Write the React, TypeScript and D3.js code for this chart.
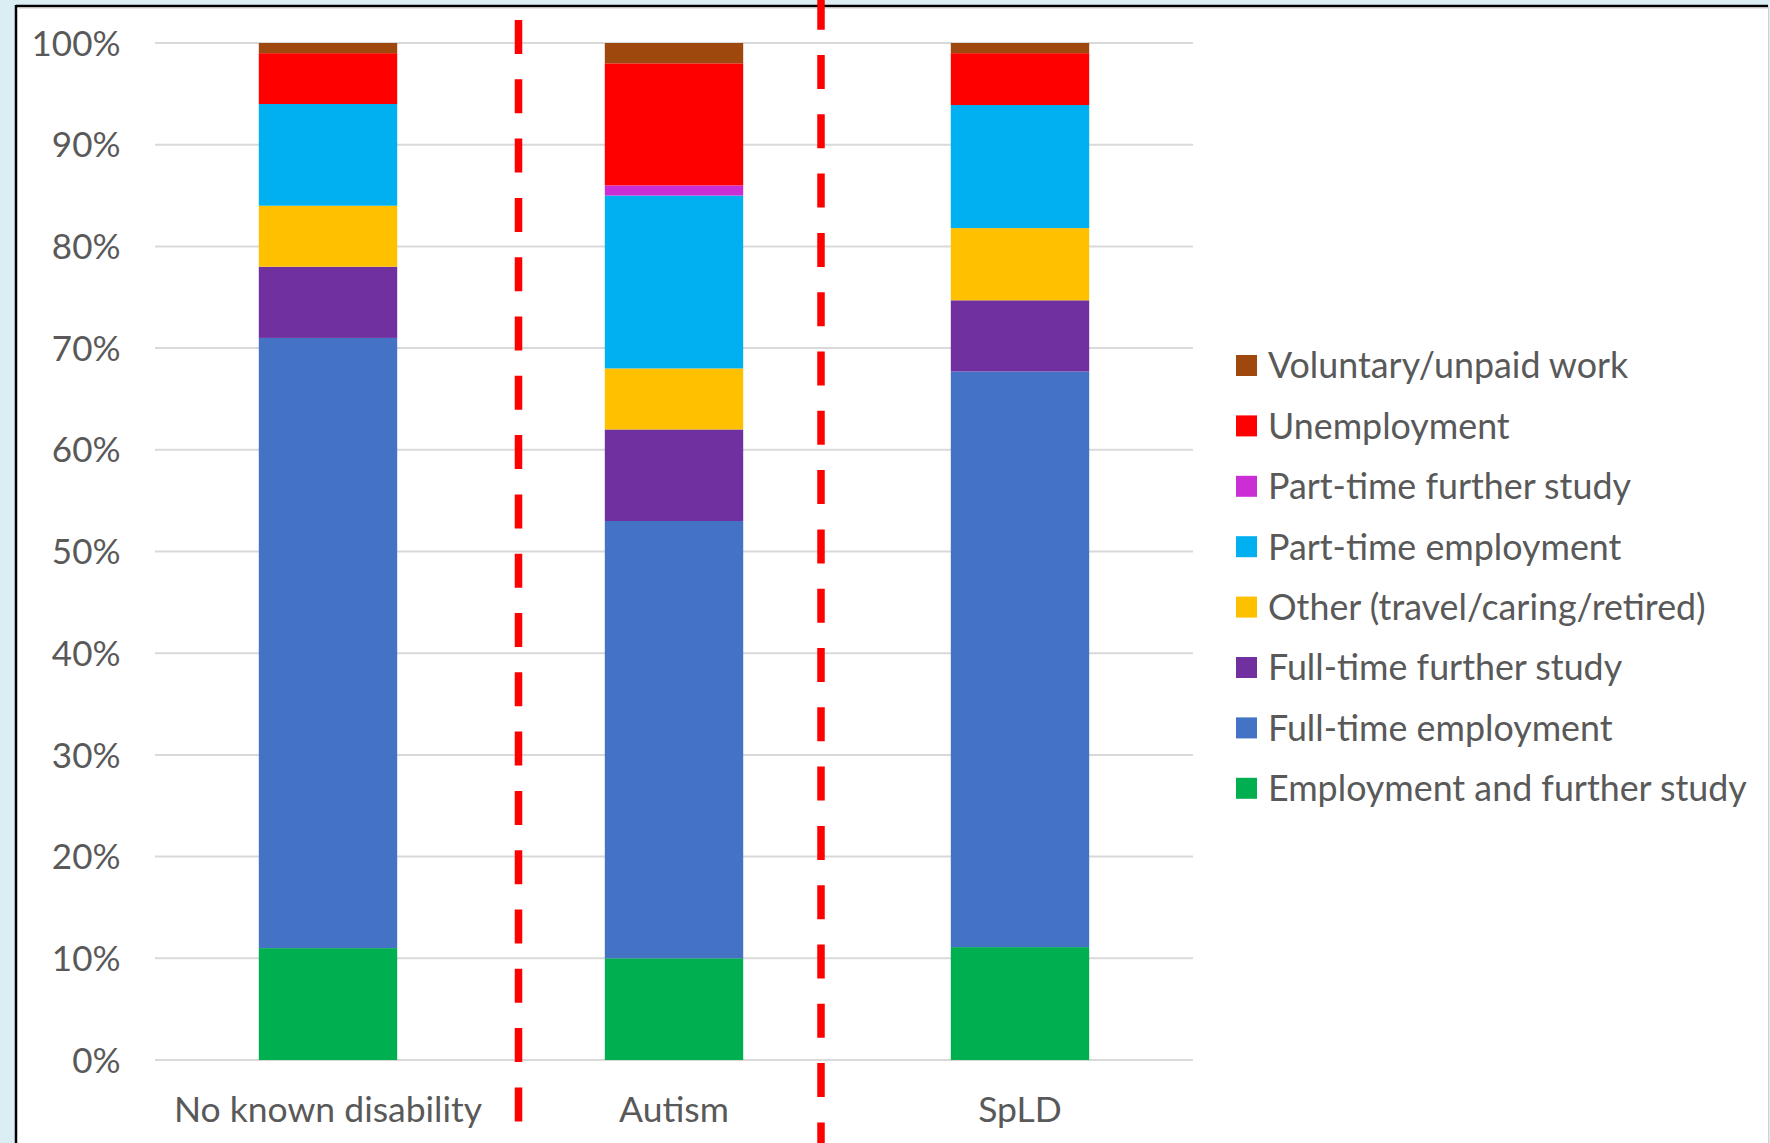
import React from 'react';
import * as d3 from 'd3';

const categories = ['No known disability', 'Autism', 'SpLD'];
const seriesNames = [
  'Employment and further study',
  'Full-time employment',
  'Full-time further study',
  'Other (travel/caring/retired)',
  'Part-time employment',
  'Part-time further study',
  'Unemployment',
  'Voluntary/unpaid work',
];
const seriesColors = ['#00B050', '#4472C4', '#7030A0', '#FFC000', '#00B0F0', '#CC2ED6', '#FF0000', '#9E480E'];
const employmentAndStudy = [11, 10, 11.1];
const fullTimeEmployment = [60, 43, 56.6];
const fullTimeStudy = [7, 9, 7.0];
const otherActivity = [6, 6, 7.1];
const partTimeEmployment = [10, 17, 12.1];
const partTimeStudy = [0, 1, 0];
const unemployment = [5, 12, 5.1];
const voluntaryWork = [1, 2, 1.0];
const yTicks = [0, 10, 20, 30, 40, 50, 60, 70, 80, 90, 100];

const seriesValues = [
  employmentAndStudy,
  fullTimeEmployment,
  fullTimeStudy,
  otherActivity,
  partTimeEmployment,
  partTimeStudy,
  unemployment,
  voluntaryWork,
];

const W = 1770;
const H = 1143;
const FONT = 'Lato, "Open Sans", sans-serif';
const TEXT = '#595959';

export default function App() {
  const plotLeft = 155;
  const plotRight = 1193;
  const plotTop = 43;
  const plotBottom = 1060;

  const x = d3.scaleBand<string>().domain(categories).range([plotLeft, plotRight]).paddingInner(0.6).paddingOuter(0.3);
  const y = d3.scaleLinear().domain([0, 100]).range([plotBottom, plotTop]);

  const rows = categories.map((c, i) => {
    const r: any = { category: c };
    seriesNames.forEach((s, j) => (r[s] = seriesValues[j][i]));
    return r;
  });
  const stacked = d3.stack<any>().keys(seriesNames)(rows);

  const legendItems = seriesNames.map((s, i) => ({ name: s, color: seriesColors[i] })).reverse();
  const legendX = 1236;
  const legendTop = 355;
  const legendPitch = 60.4;
  const sq = 21;

  const dash = '34 25.3';

  return (
    <svg width={W} height={H} style={{ position: 'absolute', left: 0, top: 0, display: 'block' }}>
      <rect x={0} y={0} width={W} height={H} fill="#DAEEF3" />
      <rect x={16} y={6} width={1752} height={H} fill="#FFFFFF" />
      <line x1={16} y1={6} x2={1768} y2={6} stroke="#000" strokeWidth={2.5} />
      <line x1={16} y1={5} x2={16} y2={H} stroke="#000" strokeWidth={2.5} />
      <line x1={1768.5} y1={6} x2={1768.5} y2={H} stroke="#D0D0D0" strokeWidth={1} />
      <line x1={17} y1={8.5} x2={1768} y2={8.5} stroke="#E6E6E6" strokeWidth={1} />

      {yTicks.map((t) => (
        <g key={t}>
          <line x1={plotLeft} x2={plotRight} y1={y(t)} y2={y(t)} stroke="#D9D9D9" strokeWidth={2} />
          <text x={120.5} y={y(t)} dy="0.36em" textAnchor="end" fontFamily={FONT} fontSize={35} fill={TEXT}>
            {t}%
          </text>
        </g>
      ))}

      {stacked.map((layer, j) => (
        <g key={layer.key} fill={seriesColors[j]}>
          {layer.map((d, i) => {
            const h = y(d[0]) - y(d[1]);
            if (h <= 0) return null;
            return <rect key={i} x={x(categories[i])} y={y(d[1])} width={x.bandwidth()} height={h} />;
          })}
        </g>
      ))}

      {categories.map((c) => (
        <text key={c} x={(x(c) as number) + x.bandwidth() / 2} y={1122} textAnchor="middle" fontFamily={FONT} fontSize={35.5} fill={TEXT}>
          {c}
        </text>
      ))}

      <line x1={518.5} x2={518.5} y1={20} y2={1121.4} stroke="#FF0000" strokeWidth={7.5} strokeDasharray={dash} />
      <line x1={821} x2={821} y1={-4.3} y2={H + 20} stroke="#FF0000" strokeWidth={7.5} strokeDasharray={dash} />

      {legendItems.map((it, i) => {
        const top = legendTop + i * legendPitch;
        return (
          <g key={it.name}>
            <rect x={legendX} y={top} width={sq} height={sq} fill={it.color} />
            <text x={1268} y={top + sq / 2} dy="0.36em" fontFamily={FONT} fontSize={35.8} fill={TEXT}>
              {it.name}
            </text>
          </g>
        );
      })}
    </svg>
  );
}
